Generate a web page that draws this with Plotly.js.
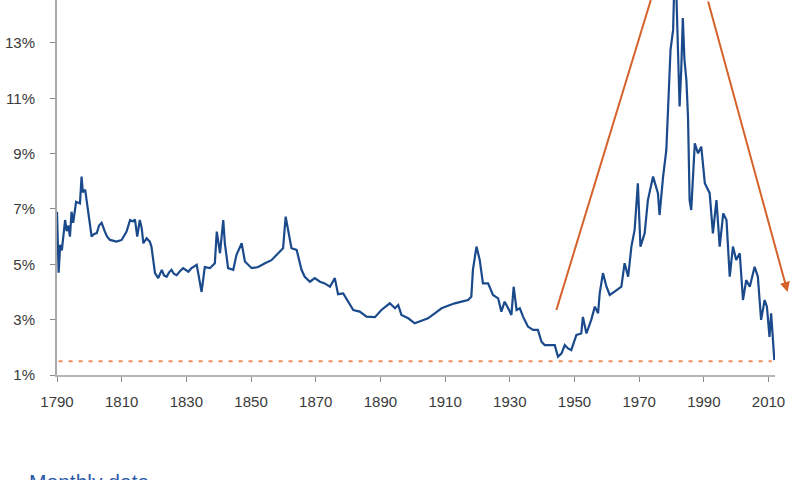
<!DOCTYPE html>
<html>
<head>
<meta charset="utf-8">
<script src="https://cdn.plot.ly/plotly-3.0.1.min.js"></script>
<style>html,body{margin:0;padding:0;background:#fff;}#chart{width:800px;height:480px;}</style>
</head>
<body>
<div id="chart"></div>
<script>
// US long-term interest rate, monthly data
const years = [
1790.0,1790.2,1790.5,1791.0,1791.5,1792.5,1793.0,1793.5,1794.0,1794.5,1795.0,1795.9,1797.1,1797.6,1798.0,1798.7,1799.4,1800.0,1800.7,1801.5,
1802.3,1803.0,1803.8,1804.3,1804.8,1805.5,1806.4,1808.4,1810.0,1811.5,1812.6,1813.5,1814.1,1814.8,1815.6,1816.2,1816.7,1817.7,1818.7,1819.2,
1819.8,1820.3,1821.3,1822.4,1823.1,1823.9,1824.6,1825.4,1826.2,1827.0,1828.0,1829.0,1830.6,1831.5,1833.2,1834.0,1834.7,1835.7,1837.3,1838.8,
1839.4,1840.4,1841.4,1841.9,1842.9,1844.5,1845.5,1847.1,1848.1,1850.2,1852.2,1854.3,1856.3,1858.4,1859.9,1860.7,1861.5,1862.5,1864.1,1865.6,
1866.6,1868.2,1869.7,1871.3,1872.8,1874.4,1875.9,1876.9,1878.5,1880.0,1881.6,1883.6,1885.7,1888.3,1890.3,1892.9,1894.5,1895.5,1896.5,1898.6,
1900.6,1902.7,1904.7,1906.8,1908.9,1910.9,1913.0,1915.1,1917.1,1918.1,1918.6,1919.7,1920.7,1921.7,1923.3,1924.8,1926.4,1927.4,1928.4,1929.5,
1930.5,1931.2,1932.1,1933.1,1934.1,1935.6,1937.2,1938.7,1939.8,1940.8,1942.3,1943.9,1944.9,1946.0,1947.0,1948.0,1949.0,1950.6,1952.1,1952.6,
1953.7,1955.2,1956.3,1957.3,1957.8,1958.8,1959.9,1960.9,1962.4,1963.8,1964.5,1965.5,1966.6,1967.6,1968.6,1969.6,1970.4,1971.7,1972.7,1974.3,
1975.8,1976.3,1977.4,1978.4,1978.9,1979.7,1980.5,1981.0,1981.5,1982.0,1982.5,1983.0,1983.5,1984.0,1984.6,1985.1,1985.6,1986.1,1987.2,1988.2,
1989.2,1990.3,1991.8,1992.8,1993.9,1994.9,1996.0,1997.0,1998.0,1999.0,2000.0,2001.1,2002.1,2003.1,2004.2,2005.7,2006.7,2007.7,2008.8,2009.5,
2010.3,2010.8,2011.8];
const rates = [
6.9,6.1,4.7,5.7,5.5,6.6,6.2,6.4,6.0,6.9,6.5,7.26,7.2,8.17,7.6,7.7,7.0,6.6,6.0,6.1,
6.13,6.4,6.5,6.3,6.18,6.0,5.88,5.82,5.88,6.18,6.6,6.55,6.62,6.0,6.6,6.3,5.76,5.94,5.82,5.64,
5.0,4.68,4.5,4.8,4.6,4.55,4.7,4.8,4.65,4.61,4.75,4.86,4.73,4.85,4.98,4.43,4.0,4.9,4.86,5.04,
6.18,5.4,6.6,5.76,4.86,4.8,5.34,5.76,5.1,4.86,4.9,5.04,5.15,5.4,5.58,6.72,6.24,5.58,5.52,4.8,
4.55,4.37,4.5,4.37,4.31,4.19,4.5,3.92,3.95,3.65,3.35,3.29,3.11,3.09,3.35,3.59,3.41,3.53,3.17,3.05,
2.87,2.96,3.05,3.23,3.41,3.5,3.59,3.65,3.71,3.83,4.8,5.64,5.16,4.31,4.31,3.89,3.77,3.29,3.65,3.41,
3.17,4.19,3.35,3.41,3.11,2.75,2.63,2.63,2.2,2.08,2.08,2.08,1.66,1.78,2.08,1.96,1.9,2.45,2.5,3.1,
2.5,3.0,3.47,3.23,3.95,4.68,4.19,3.89,4.01,4.13,4.19,5.04,4.55,5.64,6.24,7.93,5.64,6.12,7.32,8.17,
7.57,6.78,8.17,9.13,10.58,12.75,13.47,15.8,14.8,13.1,10.7,12.0,13.9,12.4,11.66,10.34,7.32,6.96,9.37,9.01,
9.25,7.93,7.57,6.12,7.32,5.64,6.84,6.6,4.55,5.64,5.16,5.4,3.71,4.43,4.19,4.91,4.55,2.99,3.71,3.47,
2.38,3.23,1.54];

const yTicks = [1, 3, 5, 7, 9, 11, 13];
const yTickText = ['1%', '3%', '5%', '7%', '9%', '11%', '13%'];
const xTicks = [1790, 1810, 1830, 1850, 1870, 1890, 1910, 1930, 1950, 1970, 1990, 2010];
const floorLevel = 1.5;
const upArrow = {x0: 1944.4, y0: 3.35, x1: 1973.6, y1: 14.55};
const downArrow = {x0: 1991.2, y0: 14.55, x1: 2015.9, y1: 4.0};

const xRange = [1790, 2012];
const yRange = [1, 14.55];
const margin = {l: 57, r: 25, t: 0, b: 105};
const plotW = 800 - margin.l - margin.r;
const plotH = 480 - margin.t - margin.b;
const xToPaper = v => (v - xRange[0]) / (xRange[1] - xRange[0]);
const yToPix = v => plotH * (1 - (v - yRange[0]) / (yRange[1] - yRange[0]));

const arrowColor = '#d4622a';
const tickFont = {family: 'Liberation Sans, Arial, sans-serif', size: 15, color: '#3a3a3a'};

const trace = {
  x: years, y: rates, type: 'scatter', mode: 'lines',
  line: {color: '#1b4a8c', width: 2.2}, hoverinfo: 'skip'
};

const layout = {
  width: 800, height: 480,
  margin: margin,
  paper_bgcolor: '#ffffff', plot_bgcolor: '#ffffff',
  showlegend: false,
  xaxis: {
    range: xRange, tickvals: xTicks, ticktext: xTicks.map(String),
    showgrid: false, zeroline: false, showline: true, linecolor: '#b5b5b5', linewidth: 2,
    ticks: 'outside', ticklen: 5, tickcolor: '#8a8a8a', tickwidth: 1,
    tickfont: tickFont, ticklabelstandoff: 7
  },
  yaxis: {
    range: yRange, tickvals: yTicks, ticktext: yTickText,
    showgrid: false, zeroline: false, showline: true, linecolor: '#a8a8a8', linewidth: 2,
    ticks: 'outside', ticklen: 5, tickcolor: '#8a8a8a', tickwidth: 1,
    tickfont: tickFont, ticklabelstandoff: 12
  },
  shapes: [
    {type: 'line', xref: 'x', yref: 'y', x0: 1790.5, x1: 2011, y0: floorLevel, y1: floorLevel,
     line: {color: '#f08a5a', width: 2, dash: '4px,6px'}},
    {type: 'line', xref: 'x', yref: 'y', x0: upArrow.x0, y0: upArrow.y0, x1: upArrow.x1, y1: upArrow.y1,
     line: {color: arrowColor, width: 2}}
  ],
  annotations: [
    {xref: 'paper', yref: 'y', x: xToPaper(downArrow.x1), y: downArrow.y1,
     axref: 'pixel', ayref: 'pixel',
     ax: (xToPaper(downArrow.x0) - xToPaper(downArrow.x1)) * plotW,
     ay: yToPix(downArrow.y0) - yToPix(downArrow.y1),
     text: '', showarrow: true, arrowhead: 2, arrowsize: 1, arrowwidth: 2, arrowcolor: arrowColor, standoff: 0},
    {xref: 'paper', yref: 'paper', x: -0.042, y: -0.248, xanchor: 'left', yanchor: 'top',
     text: 'Monthly data', showarrow: false,
     font: {family: 'Liberation Sans, Arial, sans-serif', size: 21, color: '#2a5aa8'}}
  ]
};

Plotly.newPlot('chart', [trace], layout, {staticPlot: true, displayModeBar: false});
</script>
</body>
</html>
